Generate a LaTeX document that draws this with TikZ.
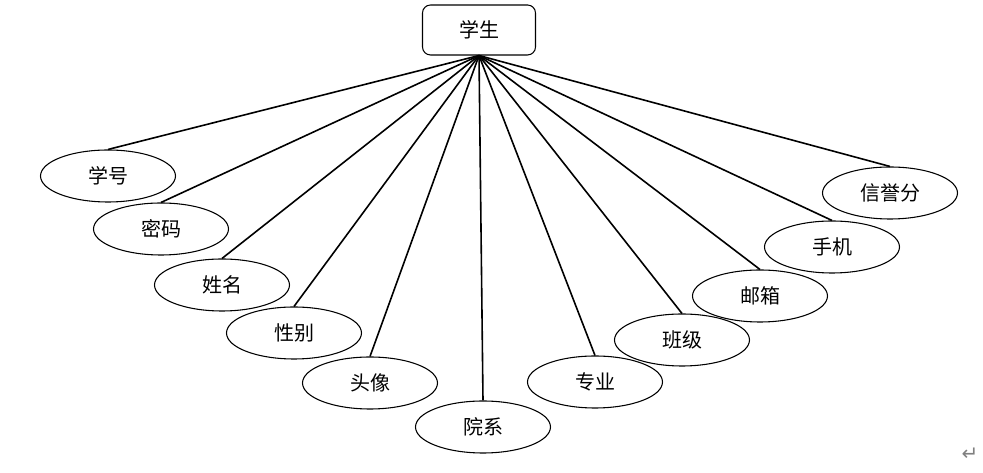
\documentclass[tikz,border=0pt]{standalone}
\usepackage{fontspec}
\newfontfamily\cjk{Noto Sans CJK SC}
\newfontfamily\symfont{DejaVu Sans}
\usetikzlibrary{shapes.geometric}
\tikzset{
  entity/.style={draw,thick,rounded corners=6pt,minimum width=84.75pt,minimum height=37.5pt,font=\cjk\fontsize{15}{15}\selectfont},
  attr/.style={draw,thick,ellipse,inner sep=0pt,minimum width=101.25pt,minimum height=39pt,font=\cjk\fontsize{15}{15}\selectfont},
  link/.style={line width=1.2pt}
}
\begin{document}
\begin{tikzpicture}[x=0.75pt,y=-0.75pt]
	\useasboundingbox (0,0) rectangle (983,473);
	\node[entity] (stu) at (479,30) {学生};
	% attributes
	\node[attr] (xh) at (108,176) {学号};
	\node[attr] (mm) at (161,229) {密码};
	\node[attr] (xm) at (222,285) {姓名};
	\node[attr] (xb) at (294,333) {性别};
	\node[attr] (tx) at (370,383) {头像};
	\node[attr] (yx) at (483,427) {院系};
	\node[attr] (zy) at (595,382) {专业};
	\node[attr] (bj) at (682,340) {班级};
	\node[attr] (yj) at (760,296) {邮箱};
	\node[attr] (sj) at (832,247) {手机};
	\node[attr] (xy) at (890,193) {信誉分};
	\foreach \a in {xh,mm,xm,xb,tx,yx,zy,bj,yj,sj,xy}
		\draw[link] (stu.south) -- (\a.north);
	\node[text=gray,font=\symfont\fontsize{15}{15}\selectfont] (ret) at (970,454) {↵};
\end{tikzpicture}
\end{document}
